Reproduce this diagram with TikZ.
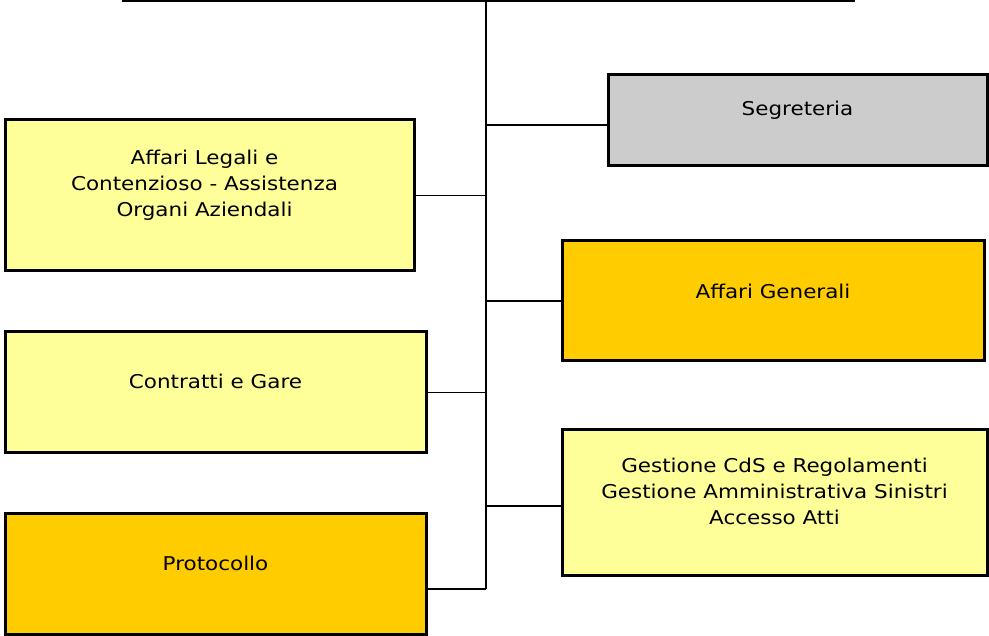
\documentclass[tikz,border=0pt]{standalone}
\usepackage{fontspec}
\setmainfont{DejaVu Sans}[FakeStretch=1.13]
\begin{document}
\begin{tikzpicture}[x=1pt,y=-1pt,
  box/.style={draw,line width=3pt,inner sep=0pt},
  pale/.style={box,fill=paleyellow},
  gold/.style={box,fill=goldyellow},
  grey/.style={box,fill=boxgrey},
  txt/.style={align=center,font=\fontsize{19}{26}\selectfont,inner sep=0pt},
  link/.style={line width=1.4pt}]
\definecolor{paleyellow}{HTML}{FFFF99}
\definecolor{goldyellow}{HTML}{FFCC00}
\definecolor{boxgrey}{HTML}{CCCCCC}
\useasboundingbox (0,0) rectangle (989,636);
% boxes
\node [grey,minimum width=379pt,minimum height=91pt] (segr) at (797.5,120.5) {};
\node [pale,minimum width=409pt,minimum height=151pt] (legali) at (209.5,195.5) {};
\node [gold,minimum width=422pt,minimum height=120pt] (generali) at (773,301) {};
\node [pale,minimum width=421pt,minimum height=121pt] (contratti) at (215.5,392.5) {};
\node [pale,minimum width=425pt,minimum height=145pt] (gestione) at (774.5,502.5) {};
\node [gold,minimum width=421pt,minimum height=121pt] (proto) at (215.5,573.5) {};
% texts
\node [txt] (segr-t) at ([yshift=10.5pt]segr.center) {Segreteria};
\node [txt] (legali-t) at ([yshift=10.5pt,xshift=-5pt]legali.center) {Affari Legali e\\Contenzioso - Assistenza\\Organi Aziendali};
\node [txt] (generali-t) at ([yshift=10pt]generali.center) {Affari Generali};
\node [txt] (contratti-t) at ([yshift=11pt]contratti.center) {Contratti e Gare};
\node [txt] (gestione-t) at ([yshift=11pt]gestione.center) {Gestione CdS e Regolamenti\\Gestione Amministrativa Sinistri\\Accesso Atti};
\node [txt] (proto-t) at ([yshift=10.5pt]proto.center) {Protocollo};
% spine
\coordinate (top) at (486,0);
\coordinate (left) at (122,1);
\coordinate (right) at (855,1);
\coordinate (bottom) at (486,589);
\draw [line width=2pt] (left) -- (right);
\draw [link] (top) -- (bottom);
\draw [line width=2.4pt] ([yshift=-4.5pt]segr.west) -- ([yshift=-4.5pt]segr.west -| top);
\draw [link] (legali.east) -- (legali.east -| top);
\draw [link] (generali.west) -- (generali.west -| top);
\draw [link] (contratti.east) -- (contratti.east -| top);
\draw [link] ([yshift=-3.5pt]gestione.west) -- ([yshift=-3.5pt]gestione.west -| top);
\draw [link] (proto.east |- bottom) -- (bottom);
\end{tikzpicture}
\end{document}
